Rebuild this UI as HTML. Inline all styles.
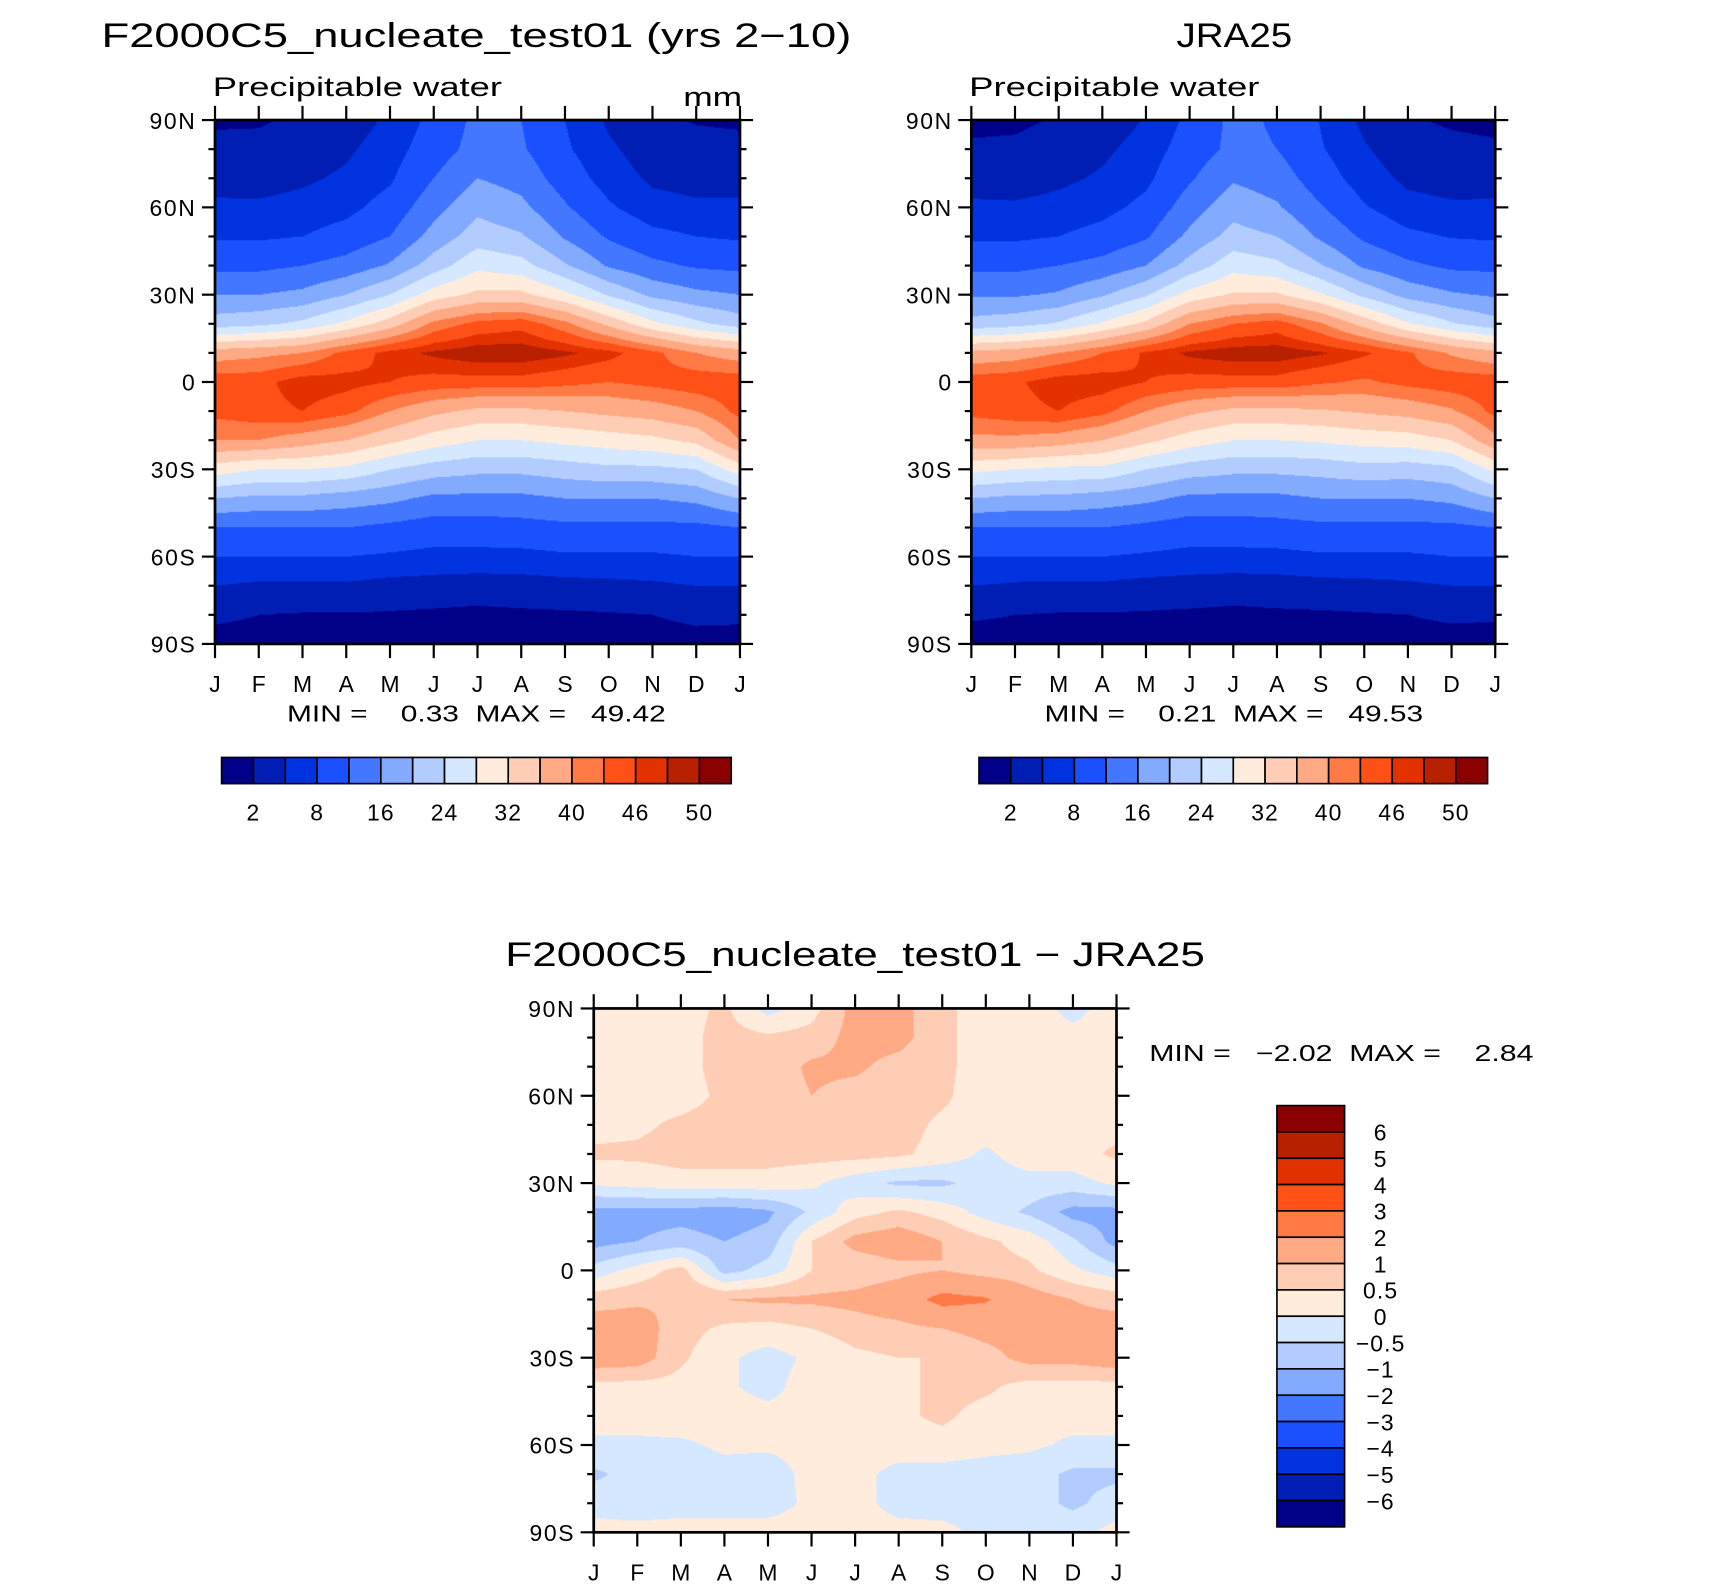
<!DOCTYPE html>
<html><head><meta charset="utf-8">
<style>
html,body{margin:0;padding:0;background:#fff;}
#wrap{position:relative;width:1710px;height:1587px;overflow:hidden;}
#stage{position:absolute;left:0;top:0;width:1566px;height:1454px;transform:scale(1.0914);transform-origin:0 0;}
canvas{position:absolute;}
svg{position:absolute;left:0;top:0;}
text{font-family:"Liberation Sans",sans-serif;fill:#000;}
</style></head>
<body>
<div id="wrap">
<div id="stage">
<canvas id="c1" width="481" height="480" style="left:197px;top:110px"></canvas>
<canvas id="c2" width="480" height="480" style="left:890px;top:110px"></canvas>
<canvas id="c3" width="479" height="480" style="left:544px;top:924px"></canvas>
<svg id="svg" width="1566" height="1454" viewBox="0 0 1566 1454">
<text x="93" y="43" font-size="31" textLength="687" lengthAdjust="spacingAndGlyphs">F2000C5_nucleate_test01 (yrs 2−10)</text>
<text x="195" y="88" font-size="25" textLength="265" lengthAdjust="spacingAndGlyphs">Precipitable water</text>
<text x="626" y="97" font-size="25" textLength="54" lengthAdjust="spacingAndGlyphs">mm</text>
<text x="1078" y="43" font-size="31" textLength="106" lengthAdjust="spacingAndGlyphs">JRA25</text>
<text x="888" y="88" font-size="25" textLength="266" lengthAdjust="spacingAndGlyphs">Precipitable water</text>
<text x="263" y="661" font-size="21" textLength="347" lengthAdjust="spacingAndGlyphs" xml:space="preserve">MIN =    0.33  MAX =   49.42</text>
<text x="957" y="661" font-size="21" textLength="347" lengthAdjust="spacingAndGlyphs" xml:space="preserve">MIN =    0.21  MAX =   49.53</text>
<text x="463" y="885" font-size="31" textLength="641" lengthAdjust="spacingAndGlyphs">F2000C5_nucleate_test01 − JRA25</text>
<text x="1053" y="972" font-size="21" textLength="352" lengthAdjust="spacingAndGlyphs" xml:space="preserve">MIN =   −2.02  MAX =    2.84</text>
</svg>
</div></div>
<script>
// ---------- data ----------
const months = ["J","F","M","A","M","J","J","A","S","O","N","D","J"];
const lats = [90,80,70,60,50,40,30,20,10,0,-10,-20,-30,-40,-50,-60,-70,-80,-90];
const yLabels = ["90N","60N","30N","0","30S","60S","90S"];
const yLabelLats = [90,60,30,0,-30,-60,-90];
const pwLevels = [2,5,8,12,16,20,24,28,32,36,40,43,46,48,50];
const pwTickLabels = ["2","8","16","24","32","40","46","50"];
const diffLevels = [-6,-5,-4,-3,-2,-1,-0.5,0,0.5,1,2,3,4,5,6];
const diffTickLabels = ["6","5","4","3","2","1","0.5","0","−0.5","−1","−2","−3","−4","−5","−6"];
const colors = ["#000088","#001eb4","#0033e0","#1a50ff","#4477ff","#82aaff","#b3ccff","#d5e8ff","#ffecdc","#ffcdb5","#ffaa85","#ff7a45","#ff5018","#e33200","#b82000","#8b0000"];
// model: one profile per month (90N..90S)
const modelJan=[1.5,3,4,5.5,7.5,11,16,22,38,45,44,40,30,20,12,8,5,2.5,1];
const modelFeb=[1.7,2.8,3.8,5.5,7.5,11,16,23,39,45,45,40,28,19,12,8,4.5,2,1];
const modelMar=[2.5,3.5,4.5,6,8,12,17,25,40,47.5,46,38,28,19,12,8,4.5,1.8,1];
const modelApr=[3.5,4.5,5.5,7,9.5,13.5,20,29,44,47,44,36,27,18,12,8,4.5,1.8,1];
const modelMay=[5.5,6.5,7.5,9.5,12,16.5,24,34,47,46,40,33,24,17,11,7.5,4,1.7,0.9];
const modelJun=[9,10,12,14.5,17.5,22,30,41,48.5,45,37,30,22,15,10,7,3.8,1.5,0.8];
const modelJul=[13,13.5,16,19,22,27,33,44,49.5,45,35,28,21,15,10,7,3.5,1.3,0.7];
const modelAug=[12,12.5,14.5,17,20.5,25.5,33,45,49.5,45,35,28,21,15,10.5,7,3.7,1.5,0.8];
const modelSep=[8,8.5,10,12.5,15.5,20.5,29,41,48.5,44,36,29,22,16,11,7.5,4,1.6,0.9];
const modelOct=[4.5,5.5,6.5,8.5,11.5,15.5,23.5,35,47,43,37,30,23,16,11,7.5,4.2,1.8,1];
const modelNov=[2.5,3.5,4.5,6,9,13,19,29,44,44,38,31,23,16,11,7.5,4.5,2,1];
const modelDec=[1.8,3,4,5.5,8,11.5,17,25,40,45,40,33,24,17,11,8,5,2.5,1.2];
// JRA25
const jraJan=[1.2,2.5,3.8,5.5,7.5,11,15.5,21.5,37,45,44,39,29,20,12,8,5,2.3,1];
const jraFeb=[1.4,2.6,3.7,5.4,7.4,11,15.5,22.5,38,45.5,45,39,28,19,12,8,4.6,2,1];
const jraMar=[2.3,3.4,4.4,5.9,8,12,16.5,24.5,40,47.5,46,38,27,19,12,8,4.5,1.8,1];
const jraApr=[3.3,4.4,5.4,6.9,9.3,13.3,19.5,28.5,43,47.5,44,36,27,18,12,8,4.5,1.8,1];
const jraMay=[5.2,6.2,7.2,9,11.5,16,23.5,33,46.5,46,40,33,24,17,11,7.5,4,1.7,0.9];
const jraJun=[8.8,9.8,11.5,14,17,21.5,29.5,40,48.5,45,37,30,22,15,10,7,3.8,1.5,0.8];
const jraJul=[13,13,15.5,18.5,21.5,26.5,32.5,43,49.3,45,35,28,21,15,10,7,3.5,1.3,0.7];
const jraAug=[11.5,12,14,16.5,20,25,32.5,44.5,49.3,45,35,28,21,15,10.5,7,3.7,1.5,0.8];
const jraSep=[7.8,8.3,9.8,12.3,15.3,20.3,28.5,40.5,48.3,43.5,35.5,28.5,21.5,16,11,7.5,4,1.6,0.9];
const jraOct=[4.3,5.3,6.3,8.3,11.3,15.3,23,34.5,46.5,42.5,36.5,29.5,22.5,16,11,7.5,4.2,1.8,1];
const jraNov=[2.3,3.3,4.4,5.9,8.8,12.8,18.5,28.5,43.5,44,37.5,30,22,16,11,7.5,4.5,2,1];
const jraDec=[1.6,2.8,3.9,5.4,7.8,11.2,16.5,24.5,39.5,45,39.5,32,23,17,11,8,5,2.4,1.1];
// difference: one row per latitude (Jan..Jan)
const d90N=[0.3,0.3,0.3,0.6,-0.2,0.3,1.2,1.2,0.6,0.3,0.3,-0.2,0.3];
const d80N=[0.3,0.3,0.3,0.7,0.6,0.7,1.2,1.2,0.6,0.3,0.3,0.2,0.3];
const d70N=[0.3,0.3,0.3,0.7,0.7,1.1,1.1,0.8,0.6,0.3,0.3,0.3,0.3];
const d60N=[0.3,0.3,0.3,0.6,0.7,1.0,0.8,0.7,0.6,0.2,0.3,0.3,0.3];
const d50N=[0.3,0.4,0.6,0.7,0.7,1.0,0.8,0.7,0.4,0.3,0.3,0.3,0.3];
const d40N=[0.6,0.6,0.7,0.7,0.7,0.7,0.7,0.6,0.3,-0.1,0.3,0.3,0.6];
const d30N=[0.1,0.2,0.3,0.3,0.3,0.1,-0.3,-0.6,-0.6,-0.3,-0.2,-0.2,0.1];
const d20N=[-1.2,-1.2,-1.2,-1.3,-1.1,-0.4,0.3,0.6,0.3,-0.2,-0.6,-1.2,-1.2];
const d10N=[-1.2,-1.0,-0.8,-1.0,-0.8,0.5,1.2,1.4,1.0,0.6,0.3,-0.4,-1.2];
const d0=[-0.3,0.2,0.7,-0.7,-0.3,0.5,0.6,0.8,1.0,0.7,0.6,0.1,-0.3];
const d10S=[0.8,0.9,1.0,1.0,1.1,1.1,1.2,1.5,2.3,2.1,1.3,1.0,0.8];
const d20S=[1.3,1.3,0.7,0.4,0.3,0.5,0.7,0.8,1.0,1.2,1.2,1.2,1.3];
const d30S=[1.4,1.3,0.6,0.1,-0.2,0.1,0.4,0.5,0.5,0.8,1.2,1.2,1.4];
const d40S=[0.3,0.3,0.3,0.1,-0.2,0.3,0.3,0.3,0.7,0.6,0.3,0.3,0.3];
const d50S=[0.2,0.2,0.3,0.3,0.2,0.2,0.3,0.4,0.6,0.3,0.2,0.2,0.2];
const d60S=[-0.1,-0.1,-0.1,0.1,0.1,0.2,0.3,0.3,0.3,0.2,0.1,-0.1,-0.1];
const d70S=[-0.6,-0.3,-0.3,-0.2,-0.3,0.2,0.2,-0.2,-0.2,-0.3,-0.3,-0.6,-0.6];
const d80S=[-0.2,-0.3,-0.2,-0.2,-0.2,0.1,0.2,-0.2,-0.3,-0.3,-0.3,-0.6,-0.3];
const d90S=[0.2,0.2,0.2,0.2,0.2,0.2,0.2,0.2,0.2,-0.2,-0.2,-0.2,0.2];

const modelCols=[modelJan,modelFeb,modelMar,modelApr,modelMay,modelJun,modelJul,modelAug,modelSep,modelOct,modelNov,modelDec,modelJan];
const jraCols=[jraJan,jraFeb,jraMar,jraApr,jraMay,jraJun,jraJul,jraAug,jraSep,jraOct,jraNov,jraDec,jraJan];
const diffRows=[d90N,d80N,d70N,d60N,d50N,d40N,d30N,d20N,d10N,d0,d10S,d20S,d30S,d40S,d50S,d60S,d70S,d80S,d90S];

// ---------- helpers ----------
const NS="http://www.w3.org/2000/svg";
const svg=document.getElementById('svg');
function mk(tag,attrs){const e=document.createElementNS(NS,tag);for(const k in attrs)e.setAttribute(k,attrs[k]);svg.appendChild(e);return e;}
function hex(c){return [parseInt(c.substr(1,2),16),parseInt(c.substr(3,2),16),parseInt(c.substr(5,2),16)];}
const rgb=colors.map(hex);
function levelIndex(v,levels){let i=0;while(i<levels.length&&v>=levels[i])i++;return i;}

function drawField(canvasId,getVal,levels){
  const cv=document.getElementById(canvasId),ctx=cv.getContext('2d');
  const W=cv.width,H=cv.height,img=ctx.createImageData(W,H);
  for(let py=0;py<H;py++){
    const fy=(py+0.5)/H*(lats.length-1),iy=Math.min(Math.floor(fy),lats.length-2),ty=fy-iy;
    for(let px=0;px<W;px++){
      const fx=(px+0.5)/W*(months.length-1),ix=Math.min(Math.floor(fx),months.length-2),tx=fx-ix;
      const v=(getVal(ix,iy)*(1-tx)+getVal(ix+1,iy)*tx)*(1-ty)+(getVal(ix,iy+1)*(1-tx)+getVal(ix+1,iy+1)*tx)*ty;
      const c=rgb[levelIndex(v,levels)],o=(py*W+px)*4;
      img.data[o]=c[0];img.data[o+1]=c[1];img.data[o+2]=c[2];img.data[o+3]=255;
    }
  }
  ctx.putImageData(img,0,0);
}
drawField('c1',(m,l)=>modelCols[m][l],pwLevels);
drawField('c2',(m,l)=>jraCols[m][l],pwLevels);
drawField('c3',(m,l)=>diffRows[l][m],diffLevels);

function drawAxes(x0,y0,w,h,prefix){
  const xS=m=>x0+m*w/12, yS=lat=>y0+(90-lat)/180*h;
  const fr=mk('rect',{x:x0,y:y0,width:w,height:h,fill:'none',stroke:'#000','stroke-width':2.5});
  
  
  for(let lat=-90;lat<=90;lat+=10){
    const major=lat%30===0,len=major?12:6,y=yS(lat);
    const t1=mk('line',{x1:x0,x2:x0-len,y1:y,y2:y,stroke:'#000','stroke-width':2});
    
    
    const t2=mk('line',{x1:x0+w,x2:x0+w+len,y1:y,y2:y,stroke:'#000','stroke-width':2});
    
    
  }
  yLabelLats.forEach((lat,i)=>{
    const t=mk('text',{x:x0-17,y:yS(lat)+8,'font-size':21,'letter-spacing':1.5,'text-anchor':'end'});
    t.textContent=yLabels[i];
    
    
  });
  months.forEach((m,i)=>{
    const x=xS(i);
    const a=mk('line',{x1:x,x2:x,y1:y0,y2:y0-13,stroke:'#000','stroke-width':2});
    
    
    const b=mk('line',{x1:x,x2:x,y1:y0+h,y2:y0+h+13,stroke:'#000','stroke-width':2});
    
    
    const t=mk('text',{x:x,y:y0+h+44,'font-size':21,'text-anchor':'middle'});
    t.textContent=m;
    
    
  });
}
drawAxes(197,110,481,480,'model');
drawAxes(890,110,480,480,'jra25');
drawAxes(544,924,479,480,'difference');

function hBar(x0,y0,w,h,prefix){
  const bw=w/colors.length;
  colors.forEach((c,i)=>{
    const r=mk('rect',{x:x0+i*bw,y:y0,width:bw,height:h,fill:c,stroke:'#000','stroke-width':1.5});
    
    
  });
  pwTickLabels.forEach((l,i)=>{
    const t=mk('text',{x:x0+(2*i+1)*bw,y:y0+h+34,'font-size':21,'letter-spacing':1,'text-anchor':'middle'});
    t.textContent=l;
    
    
  });
}
hBar(203,694,467,24,'model');
hBar(897,694,466,24,'jra25');

(function(){
  const x0=1170,y0=1013,w=62,h=386,bh=h/colors.length;
  colors.slice().reverse().forEach((c,i)=>{
    const r=mk('rect',{x:x0,y:y0+i*bh,width:w,height:bh,fill:c,stroke:'#000','stroke-width':1.5});
    
    
  });
  diffTickLabels.forEach((l,i)=>{
    const t=mk('text',{x:1265,y:y0+(i+1)*bh+8,'font-size':21,'letter-spacing':1,'text-anchor':'middle'});
    t.textContent=l;
    
    
  });
})();
</script>
</body></html>
